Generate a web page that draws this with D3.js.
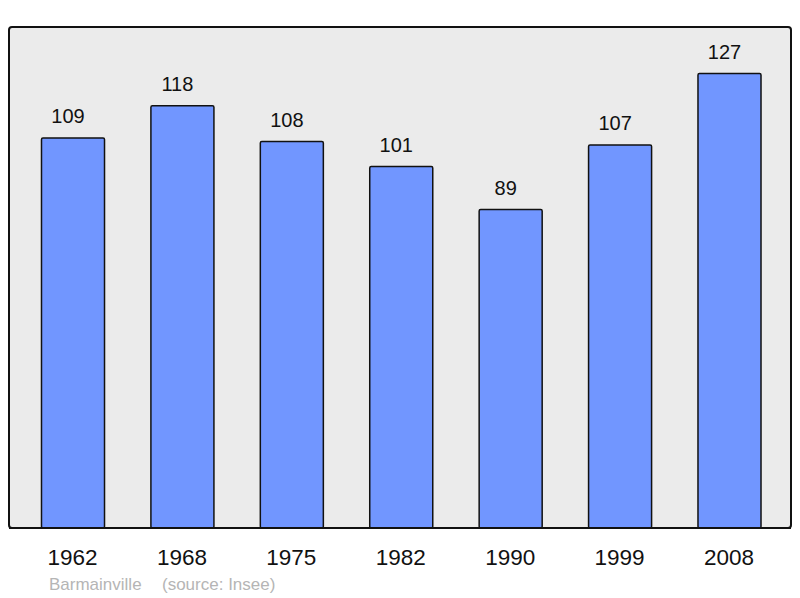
<!DOCTYPE html>
<html><head><meta charset="utf-8">
<script src="https://cdn.jsdelivr.net/npm/d3@7"></script>
<style>body{margin:0;background:#fff}svg{display:block}</style>
</head><body>
<script>
const years = ["1962","1968","1975","1982","1990","1999","2008"];
const population = [109,118,108,101,89,107,127];
const footerText = ["Barmainville", "(source: Insee)"];

const W = 800, H = 598;
const svg = d3.select("body").append("svg").attr("width", W).attr("height", H);
const font = "Liberation Sans, Arial, sans-serif";

const panel = {x0: 9, y0: 27, x1: 791, y1: 528};
svg.append("rect").attr("x", panel.x0).attr("y", panel.y0)
  .attr("width", panel.x1 - panel.x0).attr("height", panel.y1 - panel.y0)
  .attr("rx", 3).attr("fill", "#ebebeb").attr("stroke", "#111").attr("stroke-width", 2);

const x = d3.scaleBand().domain(years).range([18.3, 784.2]).paddingInner(0.424).paddingOuter(0.212);
const y = d3.scaleLinear().domain([0, 140]).range([panel.y1, panel.y0]);

const data = years.map((yr, i) => ({yr, v: population[i]}));

svg.selectAll("rect.bar").data(data).enter().append("rect").attr("class", "bar")
  .attr("x", d => x(d.yr)).attr("y", d => y(d.v))
  .attr("width", x.bandwidth()).attr("height", d => y(0) - y(d.v))
  .attr("rx", 1.5)
  .attr("fill", "#7196ff").attr("stroke", "#111").attr("stroke-width", 1.5);

svg.append("line").attr("x1", panel.x0).attr("x2", panel.x1).attr("y1", panel.y1).attr("y2", panel.y1)
  .attr("stroke", "#111").attr("stroke-width", 2);

svg.selectAll("text.val").data(data).enter().append("text").attr("class", "val")
  .attr("x", d => x(d.yr) + x.bandwidth() / 2 - 5).attr("y", d => y(d.v) - 15)
  .attr("text-anchor", "middle").attr("font-family", font).attr("font-size", 20)
  .attr("fill", "#111").text(d => d.v);

svg.selectAll("text.yr").data(years).enter().append("text").attr("class", "yr")
  .attr("x", d => x(d) + x.bandwidth() / 2 - 0.5).attr("y", 565)
  .attr("text-anchor", "middle").attr("font-family", font).attr("font-size", 22.5)
  .attr("fill", "#111").text(d => d);

const foot = svg.append("text").attr("x", 49).attr("y", 590)
  .attr("font-family", font).attr("font-size", 17).attr("fill", "#b5b5b5");
foot.append("tspan").text(footerText[0]);
foot.append("tspan").attr("x", 162).text(footerText[1]);
</script>
</body></html>
